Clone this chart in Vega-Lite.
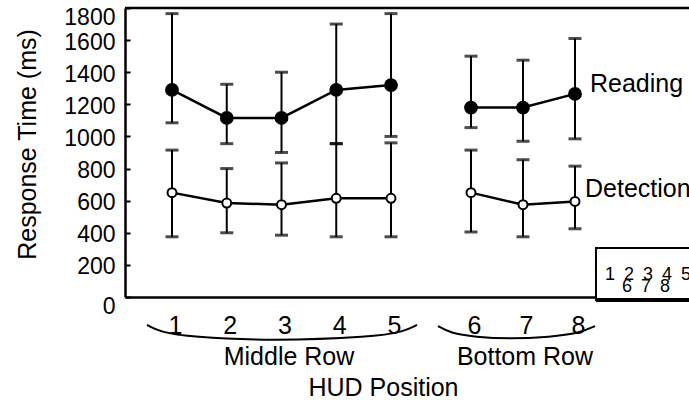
{
  "$schema": "https://vega.github.io/schema/vega-lite/v6.json",
  "width": 564,
  "height": 289,
  "autosize": {"type": "none"},
  "padding": {"left": 125, "top": 8, "right": 0, "bottom": 103},
  "config": {
    "view": {"stroke": null},
    "font": "Liberation Sans",
    "axis": {"labelFont": "Liberation Sans", "titleFont": "Liberation Sans", "labelColor": "black", "titleColor": "black", "domainColor": "black", "tickColor": "black", "grid": false, "labelFontSize": 25, "titleFontSize": 25, "titleFontWeight": "normal", "labelFlush": false, "domainWidth": 2.5, "format": "d"},
    "axisX": {"ticks": false, "labelBaseline": "alphabetic", "labelPadding": 36, "labelOffset": 3, "titleX": 258, "titleY": 98, "titleBaseline": "alphabetic", "titleAlign": "center", "labelOverlap": false},
    "axisY": {"tickSize": -5, "tickWidth": 2, "labelPadding": 15, "labelFontSize": 23, "labelOverlap": "greedy", "labelSeparation": -30, "titleX": -90, "titleY": 136, "titleAngle": -90, "titleBaseline": "alphabetic", "titleAlign": "center"},
    "text": {"font": "Liberation Sans", "color": "black"}
  },
  "datasets": {
    "rt": [
      {"pos": 1, "row": "Middle", "series": "Reading", "mean": 1290, "lo": 1085, "hi": 1765},
      {"pos": 2, "row": "Middle", "series": "Reading", "mean": 1115, "lo": 955, "hi": 1325},
      {"pos": 3, "row": "Middle", "series": "Reading", "mean": 1115, "lo": 900, "hi": 1400},
      {"pos": 4, "row": "Middle", "series": "Reading", "mean": 1290, "lo": 955, "hi": 1700},
      {"pos": 5, "row": "Middle", "series": "Reading", "mean": 1320, "lo": 1000, "hi": 1765},
      {"pos": 6, "row": "Bottom", "series": "Reading", "mean": 1180, "lo": 1055, "hi": 1500},
      {"pos": 7, "row": "Bottom", "series": "Reading", "mean": 1180, "lo": 970, "hi": 1475},
      {"pos": 8, "row": "Bottom", "series": "Reading", "mean": 1265, "lo": 985, "hi": 1610},
      {"pos": 1, "row": "Middle", "series": "Detection", "mean": 650, "lo": 375, "hi": 915},
      {"pos": 2, "row": "Middle", "series": "Detection", "mean": 585, "lo": 400, "hi": 800},
      {"pos": 3, "row": "Middle", "series": "Detection", "mean": 575, "lo": 385, "hi": 835},
      {"pos": 4, "row": "Middle", "series": "Detection", "mean": 615, "lo": 375, "hi": 955},
      {"pos": 5, "row": "Middle", "series": "Detection", "mean": 615, "lo": 375, "hi": 960},
      {"pos": 6, "row": "Bottom", "series": "Detection", "mean": 650, "lo": 405, "hi": 915},
      {"pos": 7, "row": "Bottom", "series": "Detection", "mean": 575, "lo": 375, "hi": 855},
      {"pos": 8, "row": "Bottom", "series": "Detection", "mean": 595, "lo": 425, "hi": 815}
    ],
    "braces": [
      {"brace": "Middle", "bx": 0.544, "by": -174},
      {"brace": "Middle", "bx": 0.781, "by": -218},
      {"brace": "Middle", "bx": 1.329, "by": -249},
      {"brace": "Middle", "bx": 2.845, "by": -274},
      {"brace": "Middle", "bx": 4.671, "by": -249},
      {"brace": "Middle", "bx": 5.15, "by": -218},
      {"brace": "Middle", "bx": 5.325, "by": -174},
      {"brace": "Bottom", "bx": 5.588, "by": -181},
      {"brace": "Bottom", "bx": 5.738, "by": -224},
      {"brace": "Bottom", "bx": 6.077, "by": -249},
      {"brace": "Bottom", "bx": 6.75, "by": -262},
      {"brace": "Bottom", "bx": 7.519, "by": -249},
      {"brace": "Bottom", "bx": 8.088, "by": -224},
      {"brace": "Bottom", "bx": 8.351, "by": -181}
    ],
    "one": [{}]
  },
  "layer": [
    {
      "data": {"name": "rt"},
      "mark": {"type": "rule", "strokeWidth": 2, "color": "black"},
      "encoding": {
        "x": {
          "field": "pos", "type": "quantitative",
          "scale": {"type": "linear", "domain": [0.142, 1, 5, 6, 8, 10], "range": [0, 47, 266, 346, 450, 564], "nice": false, "zero": false},
          "axis": {"values": [1, 2, 3, 4, 5, 6, 7, 8], "title": "HUD Position"}
        },
        "y": {
          "field": "lo", "type": "quantitative",
          "scale": {"domain": [0, 1800], "nice": false, "zero": true},
          "axis": {
            "values": [0, 200, 400, 600, 800, 1000, 1200, 1400, 1600, 1800], "tickCount": 10, "title": "Response Time (ms)",
            "labelOverlap": "greedy", "labelSeparation": -30,
            "labelOffset": {"condition": {"test": "datum.value == 0 || datum.value == 1800", "value": 9}, "value": 2}
          }
        },
        "y2": {"field": "hi"}
      }
    },
    {
      "data": {"name": "rt"},
      "mark": {"type": "tick", "orient": "horizontal", "size": 13, "thickness": 3, "color": "black"},
      "encoding": {
        "x": {"field": "pos", "type": "quantitative"},
        "y": {"field": "lo", "type": "quantitative"}
      }
    },
    {
      "data": {"name": "rt"},
      "mark": {"type": "tick", "orient": "horizontal", "size": 13, "thickness": 3, "color": "black"},
      "encoding": {
        "x": {"field": "pos", "type": "quantitative"},
        "y": {"field": "hi", "type": "quantitative"}
      }
    },
    {
      "data": {"name": "rt"},
      "mark": {"type": "line", "strokeWidth": 2.5, "color": "black"},
      "encoding": {
        "x": {"field": "pos", "type": "quantitative"},
        "y": {"field": "mean", "type": "quantitative"},
        "detail": [{"field": "series"}, {"field": "row"}]
      }
    },
    {
      "data": {"name": "rt"},
      "mark": {"type": "point", "filled": false, "stroke": "black", "strokeWidth": 2, "opacity": 1},
      "encoding": {
        "x": {"field": "pos", "type": "quantitative"},
        "y": {"field": "mean", "type": "quantitative"},
        "fill": {"field": "series", "type": "nominal", "scale": {"domain": ["Reading", "Detection"], "range": ["black", "white"]}, "legend": null},
        "size": {"field": "series", "type": "nominal", "scale": {"domain": ["Reading", "Detection"], "range": [140, 80]}, "legend": null}
      }
    },
    {
      "data": {"name": "rt"},
      "transform": [{"filter": "datum.pos == 8 && datum.series == 'Reading'"}],
      "mark": {"type": "text", "align": "left", "baseline": "middle", "dx": 15, "dy": -10, "fontSize": 25},
      "encoding": {
        "x": {"field": "pos", "type": "quantitative"},
        "y": {"field": "mean", "type": "quantitative"},
        "text": {"field": "series"}
      }
    },
    {
      "data": {"name": "rt"},
      "transform": [{"filter": "datum.pos == 8 && datum.series == 'Detection'"}],
      "mark": {"type": "text", "align": "left", "baseline": "middle", "dx": 10, "dy": -12, "fontSize": 25},
      "encoding": {
        "x": {"field": "pos", "type": "quantitative"},
        "y": {"field": "mean", "type": "quantitative"},
        "text": {"field": "series"}
      }
    },
    {
      "data": {"name": "one"},
      "mark": {"type": "rule", "strokeWidth": 2.5, "color": "black"},
      "encoding": {"y": {"datum": 1800, "type": "quantitative"}}
    },
    {
      "data": {"name": "braces"},
      "mark": {"type": "line", "strokeWidth": 2, "color": "black", "interpolate": "basis", "clip": false},
      "encoding": {
        "x": {"field": "bx", "type": "quantitative"},
        "y": {"field": "by", "type": "quantitative"},
        "detail": {"field": "brace"}
      }
    },
    {
      "data": {"name": "one"},
      "mark": {"type": "text", "text": "Middle Row", "fontSize": 25, "align": "center", "baseline": "alphabetic"},
      "encoding": {"x": {"datum": 3.137, "type": "quantitative"}, "y": {"datum": -423, "type": "quantitative"}}
    },
    {
      "data": {"name": "one"},
      "mark": {"type": "text", "text": "Bottom Row", "fontSize": 25, "align": "center", "baseline": "alphabetic"},
      "encoding": {"x": {"datum": 7.038, "type": "quantitative"}, "y": {"datum": -423, "type": "quantitative"}}
    },
    {
      "data": {"name": "one"},
      "mark": {"type": "rect", "fill": "white", "stroke": "black", "strokeWidth": 2},
      "encoding": {
        "x": {"datum": 8.368, "type": "quantitative"}, "x2": {"datum": 11},
        "y": {"datum": 305, "type": "quantitative"}, "y2": {"datum": -19}
      }
    },
    {
      "data": {"name": "one"},
      "mark": {"type": "rule", "strokeWidth": 4, "color": "black"},
      "encoding": {
        "x": {"datum": 8.368, "type": "quantitative"}, "x2": {"datum": 11},
        "y": {"datum": -19, "type": "quantitative"}
      }
    },
    {
      "data": {"name": "one"},
      "mark": {"type": "text", "text": "1\u20022\u20023\u20024\u20025", "fontSize": 18, "align": "left", "baseline": "alphabetic"},
      "encoding": {"x": {"datum": 8.526, "type": "quantitative"}, "y": {"datum": 106, "type": "quantitative"}}
    },
    {
      "data": {"name": "one"},
      "mark": {"type": "text", "text": "6\u20027\u20028", "fontSize": 18, "align": "left", "baseline": "alphabetic"},
      "encoding": {"x": {"datum": 8.825, "type": "quantitative"}, "y": {"datum": 31, "type": "quantitative"}}
    }
  ]
}
